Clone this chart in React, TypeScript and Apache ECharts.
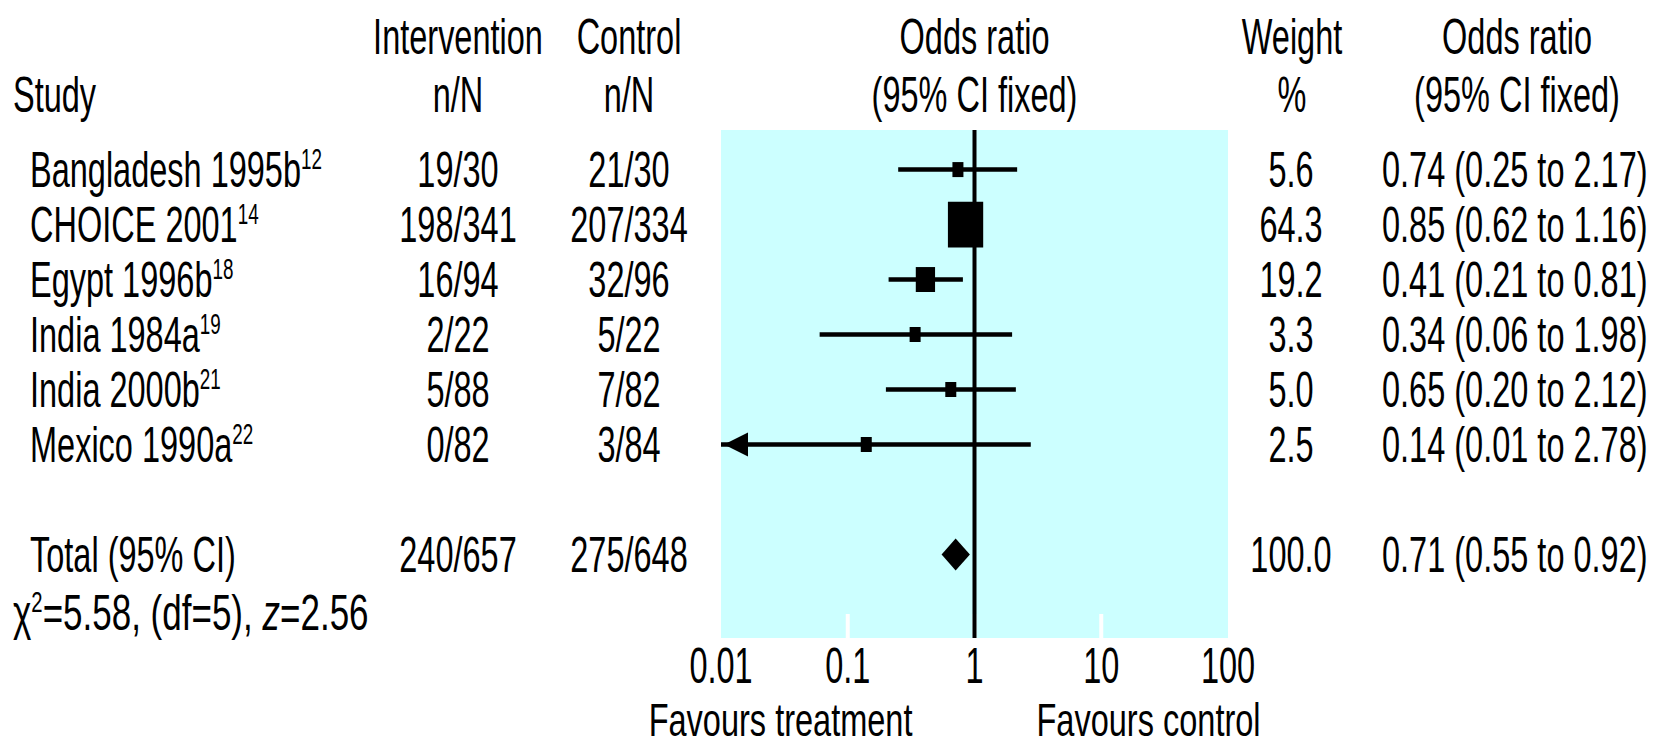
import React, { useEffect, useRef } from "react";
import * as echarts from "echarts";

// ---------- data ----------
const studies = ["Bangladesh 1995b", "CHOICE 2001", "Egypt 1996b", "India 1984a", "India 2000b", "Mexico 1990a"];
const refs = ["12", "14", "18", "19", "21", "22"];
const interventionEvents = [19, 198, 16, 2, 5, 0];
const interventionTotals = [30, 341, 94, 22, 88, 82];
const controlEvents = [21, 207, 32, 5, 7, 3];
const controlTotals = [30, 334, 96, 22, 82, 84];
const weights = [5.6, 64.3, 19.2, 3.3, 5.0, 2.5];
const oddsRatios = [0.74, 0.85, 0.41, 0.34, 0.65, 0.14];
const ciLower = [0.25, 0.62, 0.21, 0.06, 0.2, 0.01];
const ciUpper = [2.17, 1.16, 0.81, 1.98, 2.12, 2.78];
const rowPositions = [0, 1, 2, 3, 4, 5];

const totalLabel = "Total (95% CI)";
const totalRow = 7;
const totalInterventionEvents = 240;
const totalInterventionN = 657;
const totalControlEvents = 275;
const totalControlN = 648;
const totalWeight = 100.0;
const totalOddsRatio = 0.71;
const totalLower = 0.55;
const totalUpper = 0.92;

const chiSquare = 5.58;
const degreesFreedom = 5;
const zValue = 2.56;

const xTicks = [0.01, 0.1, 1, 10, 100];
const xTickLabels = ["0.01", "0.1", "1", "10", "100"];
const referenceValue = 1;
const X_MIN = 0.01;
const X_MAX = 100;

const headerTop = ["Intervention", "Control", "Odds ratio", "Weight", "Odds ratio"];
const headerBottom = ["Study", "n/N", "n/N", "(95% CI fixed)", "%", "(95% CI fixed)"];
const favourLeft = "Favours treatment";
const favourRight = "Favours control";

// ---------- style ----------
const FONT = "'Liberation Sans', Arial, sans-serif";
const FS = 50;
const SX = 0.65;

const f2 = (v: number) => v.toFixed(2);
const f1 = (v: number) => v.toFixed(1);

export default function App() {
  const ref = useRef<HTMLDivElement>(null);

  useEffect(() => {
    const chart = echarts.init(ref.current!, null, { renderer: "svg" });

    const studyData = rowPositions.map((y, i) => [oddsRatios[i], y, ciLower[i], ciUpper[i], weights[i]]);

    chart.setOption({
      animation: false,
      grid: {
        left: 721,
        top: 130,
        width: 507,
        height: 508,
        show: true,
        backgroundColor: "#ccffff",
        borderWidth: 0,
      },
      xAxis: {
        type: "log",
        logBase: 10,
        min: X_MIN,
        max: X_MAX,
        axisLine: { show: false },
        axisTick: { show: false },
        axisLabel: { show: false },
        splitLine: { show: false },
      },
      yAxis: {
        type: "value",
        min: -0.72,
        max: 8.52,
        inverse: true,
        show: false,
      },
      series: [
        {
          type: "custom",
          name: "ticks",
          z: 1,
          data: xTicks.filter((v) => v > X_MIN && v < X_MAX).map((v) => [v, 0]),
          renderItem: (params: any, api: any) => {
            const p = api.coord([api.value(0), 0]);
            const cs = params.coordSys;
            const bottom = cs.y + cs.height;
            return {
              type: "rect",
              shape: { x: p[0] - 2, y: bottom - 24, width: 4, height: 24 },
              style: { fill: "#ffffff" },
            };
          },
        },
        {
          type: "custom",
          name: "reference",
          z: 2,
          data: [[referenceValue, 0]],
          renderItem: (params: any, api: any) => {
            const p = api.coord([api.value(0), 0]);
            const cs = params.coordSys;
            return {
              type: "line",
              shape: { x1: p[0], y1: cs.y, x2: p[0], y2: cs.y + cs.height },
              style: { stroke: "#000", lineWidth: 4 },
            };
          },
        },
        {
          type: "custom",
          name: "studies",
          z: 3,
          encode: { x: [0, 2, 3], y: 1 },
          data: studyData,
          renderItem: (params: any, api: any) => {
            const orV = api.value(0);
            const y = api.value(1);
            const lo = api.value(2);
            const hi = api.value(3);
            const w = api.value(4);
            const pLo = api.coord([lo, y]);
            const pHi = api.coord([hi, y]);
            const pC = api.coord([orV, y]);
            const bw = Math.max(11, 4.4 * Math.sqrt(w));
            const bh = Math.max(15, 5.7 * Math.sqrt(w));
            const children: any[] = [
              {
                type: "line",
                shape: { x1: pLo[0], y1: pLo[1], x2: pHi[0], y2: pHi[1] },
                style: { stroke: "#000", lineWidth: 4.5 },
              },
              {
                type: "rect",
                shape: { x: pC[0] - bw / 2, y: pC[1] - bh / 2, width: bw, height: bh },
                style: { fill: "#000" },
              },
            ];
            if (lo <= X_MIN) {
              children.push({
                type: "polygon",
                shape: {
                  points: [
                    [pLo[0] + 3, pLo[1]],
                    [pLo[0] + 27, pLo[1] - 12],
                    [pLo[0] + 27, pLo[1] + 12],
                  ],
                },
                style: { fill: "#000" },
              });
            }
            return { type: "group", children };
          },
        },
        {
          type: "custom",
          name: "total",
          z: 3,
          encode: { x: [0, 2, 3], y: 1 },
          data: [[totalOddsRatio, totalRow, totalLower, totalUpper]],
          renderItem: (params: any, api: any) => {
            const y = api.value(1);
            const pC = api.coord([api.value(0), y]);
            const pLo = api.coord([api.value(2), y]);
            const pHi = api.coord([api.value(3), y]);
            const h = 16;
            return {
              type: "polygon",
              shape: {
                points: [
                  [pLo[0], pLo[1]],
                  [pC[0], pC[1] - h],
                  [pHi[0], pHi[1]],
                  [pC[0], pC[1] + h],
                ],
              },
              style: { fill: "#000" },
            };
          },
        },
      ],
    });

    const px = (x: number, y: number) => chart.convertToPixel({ gridIndex: 0 }, [x, y]) as number[];
    const gridTop = px(1, -0.72)[1];
    const gridBottom = px(1, 8.52)[1];
    const xRef = px(referenceValue, 0)[0];

    const colInt = 458;
    const colCtrl = 629;
    const colWeight = 1291;
    const colOR = 1382;
    const colOR2 = 1517;
    const colStudy = 30;
    const colLeft = 13;

    const txt = (
      text: string,
      x: number,
      y: number,
      align: string = "left",
      rich?: any,
      fs: number = FS,
      sx: number = SX
    ) => ({
      type: "text",
      x,
      y,
      scaleX: sx,
      silent: true,
      style: {
        text,
        fontSize: fs,
        fontFamily: FONT,
        fill: "#000",
        align,
        verticalAlign: "middle",
        textAlign: align,
        textVerticalAlign: "middle",
        ...(rich ? { rich } : {}),
      },
    });

    const supRich = {
      sup: { fontSize: 29, fontFamily: FONT, fill: "#000", verticalAlign: "top" },
      it: { fontSize: FS, fontFamily: FONT, fill: "#000", fontStyle: "italic" },
    };

    const h1 = gridTop - 93;
    const h2 = gridTop - 35;
    const els: any[] = [];
    els.push(txt(headerTop[0], colInt, h1, "center"));
    els.push(txt(headerTop[1], colCtrl, h1, "center"));
    els.push(txt(headerTop[2], xRef, h1, "center"));
    els.push(txt(headerTop[3], colWeight + 1, h1, "center"));
    els.push(txt(headerTop[4], colOR2, h1, "center"));
    els.push(txt(headerBottom[0], colLeft, h2, "left"));
    els.push(txt(headerBottom[1], colInt, h2, "center"));
    els.push(txt(headerBottom[2], colCtrl, h2, "center"));
    els.push(txt(headerBottom[3], xRef, h2, "center"));
    els.push(txt(headerBottom[4], colWeight + 1, h2, "center"));
    els.push(txt(headerBottom[5], colOR2, h2, "center"));

    rowPositions.forEach((r, i) => {
      const y = px(1, r)[1];
      els.push(txt(`${studies[i]}{sup|${refs[i]}}`, colStudy, y, "left", supRich));
      els.push(txt(`${interventionEvents[i]}/${interventionTotals[i]}`, colInt, y, "center"));
      els.push(txt(`${controlEvents[i]}/${controlTotals[i]}`, colCtrl, y, "center"));
      els.push(txt(f1(weights[i]), colWeight, y, "center"));
      els.push(txt(`${f2(oddsRatios[i])} (${f2(ciLower[i])} to ${f2(ciUpper[i])})`, colOR, y, "left"));
    });

    const yt = px(1, totalRow)[1];
    els.push(txt(totalLabel, colStudy, yt, "left"));
    els.push(txt(`${totalInterventionEvents}/${totalInterventionN}`, colInt, yt, "center"));
    els.push(txt(`${totalControlEvents}/${totalControlN}`, colCtrl, yt, "center"));
    els.push(txt(f1(totalWeight), colWeight, yt, "center"));
    els.push(txt(`${f2(totalOddsRatio)} (${f2(totalLower)} to ${f2(totalUpper)})`, colOR, yt, "left"));
    els.push(
      txt(
        `χ{sup|2}=${chiSquare.toFixed(2)}, (df=${degreesFreedom}), {it|z}=${zValue.toFixed(2)}`,
        colLeft,
        yt + 58,
        "left",
        supRich,
        FS,
        0.7
      )
    );

    xTicks.forEach((v, i) => {
      const x = px(v, 0)[0];
      els.push(txt(xTickLabels[i], x, gridBottom + 28, "center"));
    });
    const favFs = 46;
    const favSx = (SX * FS) / favFs;
    els.push(txt(favourLeft, xRef - 62, gridBottom + 82, "right", undefined, favFs, favSx));
    els.push(txt(favourRight, xRef + 62, gridBottom + 82, "left", undefined, favFs, favSx));

    chart.setOption({ graphic: { elements: els } });

    return () => chart.dispose();
  }, []);

  return (
    <div
      ref={ref}
      style={{ position: "fixed", left: 0, top: 0, width: 1660, height: 747, background: "#fff" }}
    />
  );
}
